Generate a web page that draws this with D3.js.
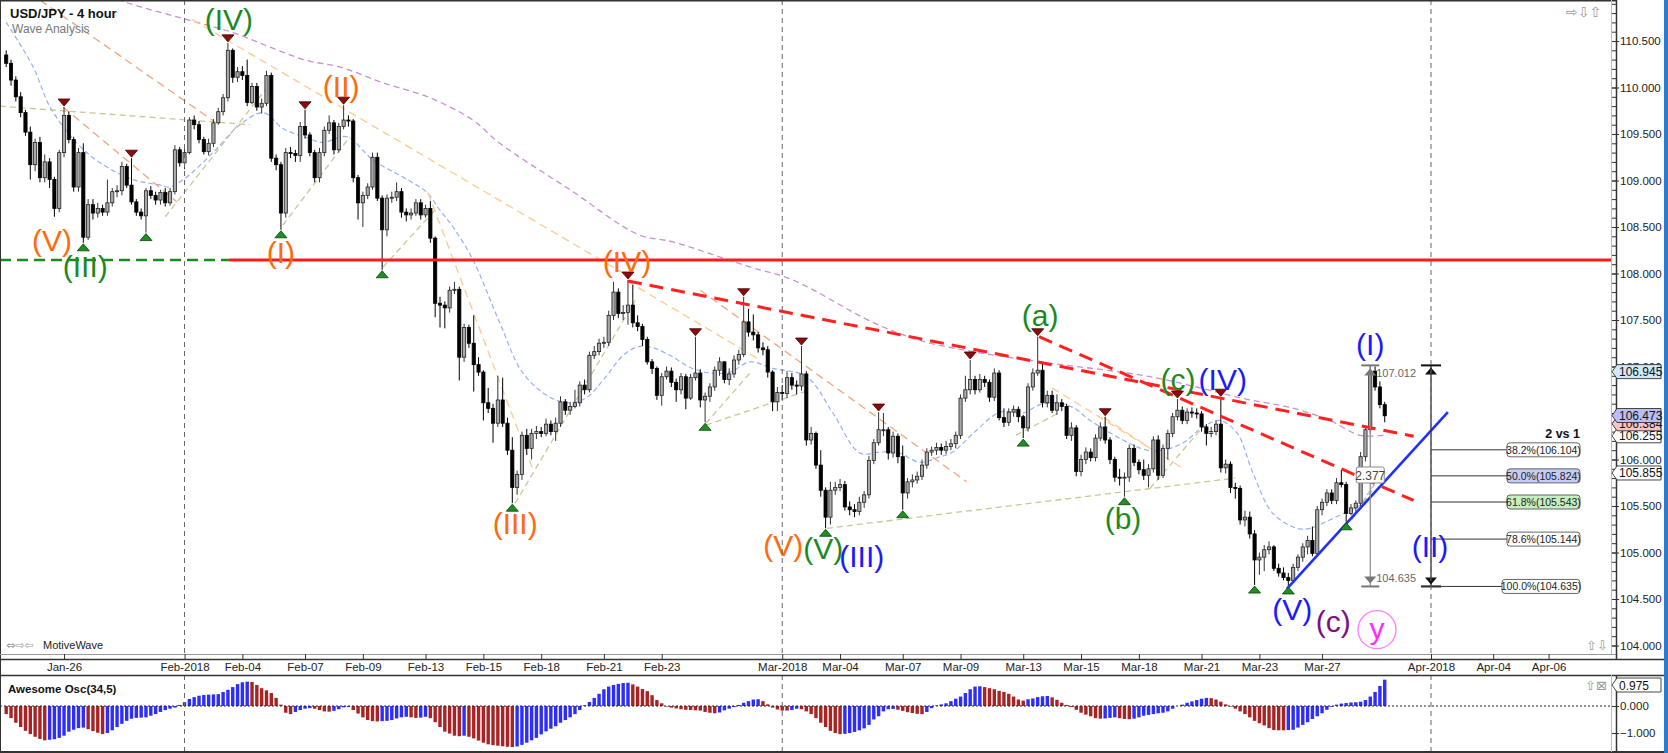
<!DOCTYPE html>
<html>
<head>
<meta charset="UTF-8">
<title>USD/JPY - 4 hour</title>
<style>
    body { margin: 0; padding: 0; background: #fff; }
    svg { display: block; font-family: 'Liberation Sans', Arial, sans-serif; }
    .wave { font-size: 30px; text-anchor: middle; }
    .axis text { font-size: 11.5px; fill: #222; }
    .axis line { stroke: #333; }
</style>
</head>
<body>

<svg></svg>

<script src="https://d3js.org/d3.v7.min.js"></script>
<script>

// ---------- data (4 hour candles, [open, high, low, close]) ----------
const candlesJan = [
[110.35,110.40,110.22,110.26],[110.26,110.30,110.02,110.08],[110.08,110.12,109.85,109.90],[109.90,109.95,109.68,109.73],
[109.73,109.76,109.48,109.52],[109.52,109.58,109.01,109.17],[109.17,109.45,109.10,109.41],[109.41,109.47,108.98,109.03],
[109.03,109.28,108.98,109.20],[109.20,109.24,108.92,109.01],[109.01,109.04,108.61,108.70],[108.70,109.33,108.66,109.30],
[109.30,109.79,109.25,109.70],[109.70,109.74,109.40,109.44],[109.44,109.47,108.88,108.93],[108.93,109.35,108.88,109.30],
[109.30,109.40,108.33,108.39],[108.39,108.80,108.36,108.74],[108.74,108.80,108.58,108.65],[108.65,108.76,108.60,108.70],
[108.70,108.74,108.62,108.66],[108.66,109.01,108.62,108.76],[108.76,108.92,108.72,108.88],[108.88,108.95,108.82,108.89],
[108.89,109.20,108.84,109.15],[109.15,109.18,108.92,108.95],[108.95,109.24,108.74,108.77],[108.77,108.80,108.62,108.66],
[108.66,108.70,108.58,108.62],[108.62,108.92,108.44,108.89],[108.89,108.94,108.80,108.84],[108.84,108.88,108.74,108.79],
[108.79,108.90,108.74,108.87],[108.87,108.92,108.72,108.76],[108.76,108.92,108.73,108.88],[108.88,109.38,108.85,109.33],
[109.33,109.36,109.15,109.19]
];
const candlesFeb = [
[109.19,109.34,109.12,109.30],[109.30,109.68,109.28,109.65],[109.65,109.70,109.55,109.60],[109.60,109.64,109.40,109.44],
[109.44,109.47,109.28,109.31],[109.31,109.45,109.27,109.40],[109.40,109.66,109.36,109.62],[109.62,109.78,109.60,109.74],
[109.74,109.93,109.70,109.89],[109.89,110.48,109.85,110.40],[110.40,110.42,110.05,110.11],[110.11,110.22,110.06,110.17],
[110.17,110.23,110.08,110.13],[110.13,110.30,109.80,109.84],[109.84,110.05,109.82,110.01],[110.01,110.05,109.75,109.79],
[109.79,109.88,109.72,109.83],[109.83,110.18,109.80,110.13],[110.13,110.16,109.20,109.24],[109.24,109.28,109.11,109.17],
[109.17,109.20,108.47,108.65],[108.65,109.35,108.60,109.30],[109.30,109.36,109.24,109.29],[109.29,109.33,109.20,109.27],
[109.27,109.63,109.20,109.58],[109.58,109.76,109.45,109.49],[109.49,109.52,109.26,109.30],[109.30,109.33,108.98,109.03],
[109.03,109.35,108.98,109.30],[109.30,109.58,109.26,109.54],[109.54,109.70,109.50,109.62],[109.62,109.65,109.28,109.33],
[109.33,109.62,109.30,109.58],[109.58,109.81,109.55,109.65],[109.65,109.70,109.58,109.64],[109.64,109.66,108.98,109.03],
[109.03,109.06,108.58,108.76],[108.76,108.88,108.50,108.84],[108.84,108.97,108.80,108.93],[108.93,109.30,108.90,109.25],
[109.25,109.30,108.78,108.81],[108.81,108.84,108.04,108.47],[108.47,108.85,108.40,108.81],[108.81,108.88,108.76,108.82],
[108.82,108.98,108.78,108.88],[108.88,108.92,108.60,108.66],[108.66,108.70,108.56,108.63],[108.63,108.70,108.58,108.65],
[108.65,108.80,108.62,108.76],[108.76,108.80,108.58,108.63],[108.63,108.74,108.60,108.70],[108.70,108.78,108.33,108.38],
[108.38,108.40,107.53,107.68],[107.68,107.75,107.42,107.66],[107.66,107.70,107.41,107.63],[107.63,107.86,107.58,107.82],
[107.82,107.91,107.78,107.83],[107.83,107.86,106.85,107.10],[107.10,107.46,107.05,107.42],[107.42,107.45,107.20,107.25],
[107.25,107.55,106.73,107.02],[107.02,107.10,106.90,106.94],[106.94,106.96,106.42,106.61],[106.61,106.77,106.50,106.55],
[106.55,106.60,106.18,106.39],[106.39,106.90,106.35,106.64],[106.64,106.88,106.35,106.39],[106.39,106.45,106.05,106.10],
[106.10,106.24,105.53,105.70],[105.70,105.88,105.62,105.84],[105.84,106.30,105.78,106.26],[106.26,106.33,106.05,106.12],
[106.12,106.33,106.00,106.28],[106.28,106.36,106.22,106.30],[106.30,106.35,106.24,106.28],[106.28,106.44,106.25,106.38],
[106.38,106.42,106.26,106.30],[106.30,106.45,106.20,106.39],[106.39,106.68,106.35,106.62],[106.62,106.65,106.48,106.53],
[106.53,106.62,106.48,106.57],[106.57,106.75,106.55,106.61],[106.61,106.84,106.57,106.80],[106.80,106.86,106.70,106.75],
[106.75,107.16,106.72,107.12],[107.12,107.22,107.08,107.16],[107.16,107.30,107.12,107.25],[107.25,107.32,107.20,107.26],
[107.26,107.60,107.22,107.55],[107.55,107.91,107.50,107.80],[107.80,107.84,107.52,107.57],[107.57,107.66,107.50,107.58],
[107.58,107.93,107.45,107.66],[107.66,107.88,107.42,107.47],[107.47,107.55,107.38,107.43],[107.43,107.46,107.22,107.29],
[107.29,107.32,107.02,107.05],[107.05,107.08,106.92,106.98],[106.98,107.00,106.64,106.69],[106.69,106.93,106.58,106.89],
[106.89,107.00,106.86,106.95],[106.95,106.99,106.78,106.83],[106.83,106.87,106.62,106.75],[106.75,106.93,106.70,106.89],
[106.89,106.92,106.54,106.66],[106.66,106.92,106.64,106.88],[106.88,107.32,106.85,106.93],[106.93,106.97,106.56,106.64],
[106.64,106.72,106.40,106.68],[106.68,106.82,106.62,106.78],[106.78,107.00,106.74,106.96],[106.96,107.10,106.90,107.05],
[107.05,107.06,106.82,106.86],[106.86,106.98,106.80,106.92],[106.92,107.12,106.88,107.07],[107.07,107.18,107.02,107.13],
[107.13,107.75,107.10,107.48],[107.48,107.62,107.32,107.37],[107.37,107.56,107.28,107.34],[107.34,107.37,107.15,107.20],
[107.20,107.26,107.12,107.18],[107.18,107.22,106.88,106.94],[106.94,106.96,106.52,106.62],[106.62,106.78,106.52,106.72]
];
const candlesMar = [
[106.72,106.80,106.64,106.71],[106.71,106.95,106.66,106.88],[106.88,106.93,106.75,106.80],[106.80,106.85,106.70,106.79],
[106.79,107.22,106.74,106.92],[106.92,106.95,106.15,106.21],[106.21,106.35,106.16,106.28],[106.28,106.30,105.90,105.94],
[105.94,106.10,105.60,105.67],[105.67,105.70,105.26,105.38],[105.38,105.76,105.30,105.67],[105.67,105.76,105.62,105.70],
[105.70,105.79,105.66,105.73],[105.73,105.77,105.45,105.49],[105.49,105.55,105.40,105.46],[105.46,105.52,105.38,105.44],
[105.44,105.60,105.40,105.54],[105.54,105.66,105.48,105.62],[105.62,106.04,105.58,105.99],[105.99,106.22,105.95,106.18],
[106.18,106.51,106.15,106.32],[106.32,106.50,106.25,106.32],[106.32,106.35,106.00,106.07],[106.07,106.30,106.02,106.25],
[106.25,106.28,105.96,106.03],[106.03,106.15,105.46,105.64],[105.64,105.80,105.58,105.76],[105.76,105.84,105.70,105.78],
[105.78,105.87,105.74,105.82],[105.82,106.00,105.78,105.94],[105.94,106.12,105.90,106.08],[106.08,106.14,106.04,106.10],
[106.10,106.18,106.05,106.13],[106.13,106.17,106.05,106.10],[106.10,106.20,106.06,106.14],[106.14,106.22,106.10,106.17],
[106.17,106.30,106.12,106.26],[106.26,106.70,106.22,106.66],[106.66,106.90,106.62,106.75],[106.75,107.07,106.70,106.86],
[106.86,106.90,106.70,106.75],[106.75,106.92,106.72,106.86],[106.86,106.90,106.78,106.83],[106.83,106.86,106.62,106.67],
[106.67,106.98,106.63,106.93],[106.93,106.96,106.42,106.45],[106.45,106.55,106.35,106.40],[106.40,106.55,106.36,106.51],
[106.51,106.58,106.46,106.54],[106.54,106.57,106.40,106.46],[106.46,106.48,106.23,106.34],[106.34,106.82,106.30,106.78],
[106.78,106.98,106.74,106.93],[106.93,107.32,106.90,106.96],[106.96,107.05,106.56,106.61],[106.61,106.74,106.56,106.69],
[106.69,106.74,106.50,106.53],[106.53,106.70,106.48,106.61],[106.61,106.65,106.52,106.57],[106.57,106.60,106.22,106.26],
[106.26,106.40,106.20,106.34],[106.34,106.37,105.82,105.87],[105.87,106.05,105.82,106.00],[106.00,106.13,105.95,106.08],
[106.08,106.12,105.98,106.02],[106.02,106.27,105.98,106.23],[106.23,106.40,106.20,106.35],[106.35,106.46,106.17,106.21],
[106.21,106.24,105.95,106.00],[106.00,106.03,105.76,105.81],[105.81,105.90,105.72,105.80],[105.80,105.86,105.60,105.81],
[105.81,106.16,105.76,106.12],[106.12,106.16,105.93,105.97],[105.97,106.00,105.84,105.89],[105.89,106.00,105.78,105.83],
[105.83,105.95,105.70,105.90],[105.90,106.25,105.86,106.21],[106.21,106.26,105.78,105.83],[105.83,106.16,105.80,106.12],
[106.12,106.32,106.00,106.28],[106.28,106.50,106.24,106.46],[106.46,106.65,106.42,106.53],[106.53,106.57,106.38,106.42],
[106.42,106.55,106.38,106.51],[106.51,106.56,106.45,106.50],[106.50,106.55,106.44,106.49],[106.49,106.52,106.30,106.35],
[106.35,106.38,106.15,106.28],[106.28,106.35,106.24,106.30],[106.30,106.42,106.26,106.38],[106.38,106.67,105.86,105.91],
[105.91,106.00,105.85,105.95],[105.95,105.98,105.64,105.70],[105.70,105.75,105.58,105.69],[105.69,105.72,105.30,105.35],
[105.35,105.45,105.28,105.38],[105.38,105.44,105.15,105.20],[105.20,105.24,104.65,104.92],[104.92,105.00,104.76,104.95],
[104.95,105.08,104.80,105.03],[105.03,105.12,104.98,105.06],[105.06,105.08,104.80,104.83],[104.83,104.88,104.74,104.78],
[104.78,104.84,104.70,104.73],[104.73,104.78,104.64,104.70],[104.70,104.88,104.68,104.84],[104.84,104.98,104.80,104.95],
[104.95,105.10,104.90,105.06],[105.06,105.18,104.98,105.13],[105.13,105.28,104.96,104.99],[104.99,105.50,104.96,105.46],
[105.46,105.58,105.40,105.54],[105.54,105.68,105.50,105.64],[105.64,105.68,105.52,105.56],[105.56,105.80,105.52,105.75],
[105.75,105.89,105.70,105.73],[105.73,105.76,105.33,105.42],[105.42,105.52,105.40,105.48],[105.48,105.56,105.44,105.53],
[105.53,106.08,105.50,106.03],[106.03,106.36,105.98,106.32],[106.32,107.01,106.28,106.95],[106.95,107.00,106.74,106.78],
[106.78,106.84,106.55,106.59],[106.59,106.62,106.40,106.47]
];

// Awesome Oscillator (34,5), one value per candle
const aoValues = [
-0.30,-0.45,-0.62,-0.78,-0.92,-1.04,-1.14,-1.22,-1.27,-1.25,
-1.23,-1.18,-1.10,-0.95,-0.88,-0.82,-0.80,-0.86,-0.93,-0.99,
-1.04,-1.00,-0.90,-0.78,-0.66,-0.55,-0.47,-0.44,-0.43,-0.42,
-0.36,-0.30,-0.22,-0.15,-0.10,-0.06,0.04,0.14,0.26,0.33,
0.38,0.41,0.42,0.43,0.44,0.52,0.60,0.70,0.81,0.88,
0.90,0.89,0.78,0.66,0.58,0.48,0.30,0.05,-0.25,-0.30,
-0.22,-0.15,-0.10,-0.08,-0.10,-0.15,-0.20,-0.21,-0.18,-0.12,
-0.05,-0.04,-0.15,-0.28,-0.42,-0.52,-0.56,-0.57,-0.56,-0.55,
-0.52,-0.46,-0.42,-0.40,-0.42,-0.44,-0.43,-0.40,-0.45,-0.60,
-0.78,-0.95,-1.02,-1.10,-1.12,-1.10,-1.14,-1.20,-1.28,-1.36,
-1.42,-1.45,-1.47,-1.49,-1.51,-1.52,-1.50,-1.44,-1.36,-1.27,
-1.18,-1.05,-0.94,-0.84,-0.75,-0.62,-0.52,-0.42,-0.30,-0.15,
0.03,0.15,0.30,0.45,0.62,0.72,0.78,0.82,0.85,0.86,
0.80,0.72,0.63,0.55,0.40,0.22,0.10,-0.02,-0.06,-0.09,
-0.12,-0.14,-0.15,-0.16,-0.17,-0.22,-0.25,-0.27,-0.24,-0.16,
-0.10,-0.04,0.04,0.12,0.18,0.24,0.25,0.18,0.06,-0.06,
-0.13,-0.17,-0.17,-0.15,-0.10,-0.12,-0.20,-0.30,-0.45,-0.62,
-0.78,-0.92,-1.00,-1.04,-1.03,-1.00,-0.96,-0.90,-0.83,-0.70,
-0.50,-0.38,-0.20,-0.12,-0.11,-0.14,-0.18,-0.23,-0.26,-0.29,
-0.30,-0.22,-0.08,0.02,0.06,0.10,0.18,0.27,0.35,0.48,
0.62,0.72,0.73,0.70,0.66,0.62,0.56,0.52,0.45,0.35,
0.24,0.20,0.25,0.28,0.33,0.36,0.37,0.32,0.23,0.12,
0.04,-0.04,-0.14,-0.25,-0.32,-0.38,-0.45,-0.47,-0.46,-0.44,
-0.42,-0.45,-0.48,-0.49,-0.47,-0.42,-0.36,-0.33,-0.30,-0.27,
-0.25,-0.20,-0.10,0.00,0.05,0.12,0.17,0.22,0.27,0.30,
0.29,0.24,0.16,0.06,-0.02,-0.10,-0.20,-0.30,-0.42,-0.55,
-0.64,-0.72,-0.82,-0.89,-0.90,-0.90,-0.89,-0.88,-0.80,-0.70,
-0.60,-0.48,-0.38,-0.27,-0.14,-0.03,0.05,0.09,0.11,0.13,
0.14,0.16,0.22,0.35,0.52,0.74,0.975
];

// time axis (label, candle index)
const tickLabels = ["Jan-26","Feb-2018","Feb-04","Feb-07","Feb-09","Feb-13","Feb-15","Feb-18","Feb-21","Feb-23",
    "Mar-2018","Mar-04","Mar-07","Mar-09","Mar-13","Mar-15","Mar-18","Mar-21","Mar-23","Mar-27","Apr-2018","Apr-04","Apr-06"];
const tickIndex = [12,37,49,62,74,87,99,111,124,136,161,173,186,198,211,223,235,248,260,273,295.6,308.5,320];
const monthLabels = ["Feb-2018","Mar-2018","Apr-2018"];
const priceTicks = [104.0,104.5,105.0,105.5,106.0,106.5,107.0,107.5,108.0,108.5,109.0,109.5,110.0,110.5];

// moving averages, [candle index, price]
const slowMA = [[17.4,111.08],[24.7,110.92],[37.5,110.73],[47.1,110.59],[55.4,110.42],[62.4,110.29],[69.3,110.22],
    [78.2,110.05],[87.9,109.89],[96.8,109.65],[102.4,109.40],[117,108.90],[131.1,108.42],[138.3,108.34],[154.3,108.07],
    [163.2,107.93],[180,107.47],[189.6,107.28],[200.6,107.16],[214.5,107.05],[237.3,106.89],[258.1,106.64],[266.4,106.56],
    [274.6,106.42],[280.9,106.26],[286,106.26]];
const fastMA = [[0,110.70],[5.6,110.22],[9.1,109.79],[14.7,109.40],[19.5,109.19],[26.3,109.01],[32,108.95],[34,108.93],
    [37.5,109.04],[42.9,109.30],[48.5,109.60],[53.3,109.73],[57.4,109.56],[62.4,109.46],[65.7,109.41],[70.7,109.47],
    [76.1,109.22],[83.2,109.01],[87.3,108.87],[90,108.68],[92.7,108.50],[96.8,108.15],[102.4,107.47],[107.2,106.93],
    [112.8,106.67],[117,106.61],[120.5,106.67],[123.8,106.85],[128,107.12],[130.9,107.21],[133.6,107.21],[137.7,107.12],
    [141.9,106.99],[146,106.93],[150.2,106.94],[154.3,107.05],[159.1,106.98],[166.1,106.89],[171.5,106.50],[177.1,106.07],
    [181.3,106.08],[184.8,106.08],[189.6,105.97],[193.7,106.03],[196.4,106.08],[200.6,106.28],[206.2,106.51],[211,106.50],
    [214.5,106.59],[218,106.61],[221.3,106.56],[224.9,106.42],[231.7,106.21],[236.7,106.10],[240,106.10],[244.2,106.18],
    [248.3,106.35],[251.8,106.42],[255.4,106.28],[258.7,105.85],[262.8,105.42],[267.8,105.26],[270.5,105.26],
    [274.6,105.35],[278.2,105.44],[280.9,105.51],[283,105.67],[286,105.86]];

// drawn trend lines, [index1, price1, index2, price2]
const salmonLines = [[7,110.94,43.3,109.63],[11.8,109.79,35.4,108.77],[144,107.82,199.3,105.76]];
const paleOrangeLines = [[38.6,110.73,128.8,107.98],[87.5,108.87,109.3,105.89],[128.8,107.92,156.4,107.07],
    [217,106.77,244.6,105.89],[227.8,106.45,239.4,106.05]];
const khakiLines = [[-1.3,109.80,50.6,109.60],[33,108.61,54.3,110.01],[57.4,108.52,71.3,109.47],[78.2,108.07,88.9,108.68],
    [105.6,105.53,130.5,107.71],[145.2,106.39,154.3,106.93],[145.2,106.37,166.8,106.75],[170.3,105.26,255,105.80],
    [209.5,106.26,218.7,106.51],[237.3,105.69,248.3,106.35],[279.2,105.35,283.4,105.67]];
const redDashLines = [[129,107.92,292,106.25],[214.3,107.32,292,105.56]];
const blueTrendLines = [[265.7,104.61,299.1,106.51]];
const keyLevel = 108.145, keyLevelFrom = 46.2;

// swing markers (candle index)
const swingHighs = [12,26,46,62,70,129,143,153,165,181,200,214,228,243,252];
const swingLows = [16,29,57,78,105,145,170,186,211,232,259,266,278];

// wave labels [text, index, price]
const wavesOrange = [["(V)",9.5,108.34],["(I)",57,108.21],["(II)",69.5,109.99],["(III)",105.6,105.30],["(IV)",128.8,108.11],["(V)",161.2,105.06]];
const wavesGreen = [["(III)",16.4,108.06],["(IV)",46.2,110.72],["(V)",169.5,105.03],["(a)",214.5,107.53],["(b)",231.7,105.35],["(c)",243.1,106.84]];
const wavesBlue = [["(III)",177.5,104.94],["(IV)",252.4,106.84],["(V)",266.8,104.37],["(I)",283,107.22],["(II)",295.4,105.05]];
const wavesPurple = [["(c)",275.3,104.24]];
const wavesMagenta = [["y",284.4,104.17]];

// fibonacci retracement and measure
const fibIndex = 295.6, measureIndex = 283;
const swingTop = 107.012, swingBottom = 104.635;
const fibNames = ["38.2%","50.0%","61.8%","78.6%","100.0%"];
const fibPrices = [106.104,105.824,105.543,105.144,104.635];
const measureText = "2.377";

// right axis value tags
const tagValues = [105.855,106.255,106.384,106.473,106.945];
const aoLast = 0.975;

// ---------- layout ----------
let W = 1668, H = 753;
let plotR = 1612, mainB = 654, oscT = 675, oscB = 752;
let x0 = 6.2, step = 4.82;

let svg = d3.select("svg").attr("width", W).attr("height", H).attr("viewBox", `0 0 ${W} ${H}`);
svg.append("rect").attr("width", W).attr("height", H).attr("fill", "#fff");

let x = d3.scaleLinear().domain([0, 1]).range([x0, x0 + step]);
let y = d3.scaleLinear().domain([104, 110.5]).range([645.5, 41]);
let yAO = d3.scaleLinear().domain([-1, 0]).range([733, 706]);

let candles = candlesJan.concat(candlesFeb, candlesMar)
    .map((d, i) => ({i: i, o: d[0], h: d[1], l: d[2], c: d[3]}));

let defs = svg.append("defs");
defs.append("clipPath").attr("id", "clipMain").append("rect")
    .attr("x", 1).attr("y", 1).attr("width", plotR - 1).attr("height", mainB - 1);
defs.append("clipPath").attr("id", "clipOsc").append("rect")
    .attr("x", 1).attr("y", oscT + 1).attr("width", plotR - 1).attr("height", oscB - oscT - 1);

let main = svg.append("g").attr("clip-path", "url(#clipMain)");
let osc = svg.append("g").attr("clip-path", "url(#clipOsc)");

// month separators
monthLabels.forEach(m => {
    let xm = x(tickIndex[tickLabels.indexOf(m)]);
    [[0, mainB], [oscT, oscB]].forEach(r => {
        svg.append("line").attr("x1", xm).attr("x2", xm).attr("y1", r[0]).attr("y2", r[1])
            .attr("stroke", "#666").attr("stroke-width", 1).attr("stroke-dasharray", "5,4");
    });
});

// moving averages
let maLine = d3.line().x(d => x(d[0])).y(d => y(d[1])).curve(d3.curveCatmullRom);
main.append("path").attr("d", maLine(slowMA)).attr("fill", "none")
    .attr("stroke", "#c890d2").attr("stroke-width", 1.3).attr("stroke-dasharray", "6,4");
main.append("path").attr("d", maLine(fastMA)).attr("fill", "none")
    .attr("stroke", "#93b2f2").attr("stroke-width", 1.2).attr("stroke-dasharray", "5,3");

// thin wave channel lines
function drawSegments(g, data, color, width, dash) {
    g.append("g").selectAll("line").data(data).enter().append("line")
        .attr("x1", d => x(d[0])).attr("y1", d => y(d[1]))
        .attr("x2", d => x(d[2])).attr("y2", d => y(d[3]))
        .attr("stroke", color).attr("stroke-width", width).attr("stroke-dasharray", dash);
}
drawSegments(main, salmonLines, "#f3a578", 1.3, "8,5");
drawSegments(main, paleOrangeLines, "#ffc98e", 1.3, "8,5");
drawSegments(main, khakiLines, "#c9c893", 1.3, "6,4");

// candles
let gC = main.append("g");
gC.selectAll("line").data(candles).enter().append("line")
    .attr("x1", d => x(d.i)).attr("x2", d => x(d.i))
    .attr("y1", d => y(d.h)).attr("y2", d => y(d.l))
    .attr("stroke", d => d.c >= d.o ? "#333" : "#000").attr("stroke-width", 1);
gC.selectAll("rect").data(candles).enter().append("rect")
    .attr("x", d => x(d.i) - 1.6).attr("width", 3.2)
    .attr("y", d => y(Math.max(d.o, d.c)))
    .attr("height", d => Math.max(1, Math.abs(y(d.o) - y(d.c))))
    .attr("fill", d => d.c >= d.o ? "#a8a8a8" : "#000")
    .attr("stroke", d => d.c >= d.o ? "#222" : "#000").attr("stroke-width", 0.8);

// key horizontal level
main.append("line").attr("x1", 0).attr("x2", x(keyLevelFrom)).attr("y1", y(keyLevel)).attr("y2", y(keyLevel))
    .attr("stroke", "#1a8c1a").attr("stroke-width", 2.6).attr("stroke-dasharray", "11,6");
main.append("line").attr("x1", x(keyLevelFrom)).attr("x2", plotR).attr("y1", y(keyLevel)).attr("y2", y(keyLevel))
    .attr("stroke", "#ff1a1a").attr("stroke-width", 3);

// trend lines
drawSegments(main, redDashLines, "#ff2020", 3, "14,8");
drawSegments(main, blueTrendLines, "#1f2fff", 2.6, null);

// swing markers
function tri(cx, tip, dir) {
    let h = 7, w = 6;
    return `M${cx - w},${tip - dir * h}L${cx + w},${tip - dir * h}L${cx},${tip}Z`;
}
main.append("g").selectAll("path").data(swingHighs).enter().append("path")
    .attr("d", i => tri(x(i), y(candles[i].h) - 1, 1))
    .attr("fill", "#8e0b0b").attr("stroke", "#3a0000").attr("stroke-width", 0.8);
main.append("g").selectAll("path").data(swingLows).enter().append("path")
    .attr("d", i => tri(x(i), y(candles[i].l) + 1, -1))
    .attr("fill", "#1f8f1f").attr("stroke", "#0a3f0a").attr("stroke-width", 0.8);

// measure tool on the last swing
let mx = x(measureIndex), mTop = y(swingTop), mBot = y(swingBottom);
main.append("line").attr("x1", mx).attr("x2", mx).attr("y1", mTop).attr("y2", mBot)
    .attr("stroke", "#8a8a8a").attr("stroke-width", 1.2);
[mTop, mBot].forEach(v => main.append("line").attr("x1", mx - 9).attr("x2", mx + 9).attr("y1", v).attr("y2", v)
    .attr("stroke", "#777").attr("stroke-width", 2));
main.append("path").attr("d", tri(mx, mTop + 3, -1)).attr("fill", "#777");
main.append("path").attr("d", tri(mx, mBot - 3, 1)).attr("fill", "#777");
main.append("text").attr("x", mx + 6).attr("y", mTop + 12).attr("font-size", "11px").attr("fill", "#666").text(swingTop.toFixed(3));
main.append("text").attr("x", mx + 6).attr("y", mBot - 4).attr("font-size", "11px").attr("fill", "#666").text(swingBottom.toFixed(3));
main.append("rect").attr("x", mx - 14).attr("y", 467).attr("width", 28).attr("height", 16).attr("rx", 2)
    .attr("fill", "#fff").attr("stroke", "#888");
main.append("text").attr("x", mx).attr("y", 479.5).attr("text-anchor", "middle").attr("font-size", "12px")
    .attr("fill", "#444").text(measureText);

// fibonacci retracement
let fx = x(fibIndex), fTop = y(swingTop), fBot = y(swingBottom);
let fibFill = ["#ffffff", "#c3cbf6", "#c6efc1", "#ffffff", "#ffffff"];
main.append("line").attr("x1", fx).attr("x2", fx).attr("y1", fTop).attr("y2", fBot)
    .attr("stroke", "#333").attr("stroke-width", 1.3);
[fTop, fBot].forEach(v => main.append("line").attr("x1", fx - 10).attr("x2", fx + 10).attr("y1", v).attr("y2", v)
    .attr("stroke", "#111").attr("stroke-width", 2));
main.append("path").attr("d", tri(fx, fTop + 2, -1)).attr("fill", "#111");
main.append("path").attr("d", tri(fx, fBot - 2, 1)).attr("fill", "#111");
fibPrices.forEach((p, k) => {
    let last = k === fibPrices.length - 1;
    let bx = last ? fx + 71 : fx + 76;
    let yy = y(p);
    main.append("line").attr("x1", last ? fx - 10 : fx).attr("x2", bx).attr("y1", yy).attr("y2", yy)
        .attr("stroke", "#333").attr("stroke-width", 1);
    main.append("rect").attr("x", bx).attr("y", yy - 7).attr("width", fx + 149 - bx).attr("height", 14).attr("rx", 3)
        .attr("fill", fibFill[k]).attr("stroke", "#555").attr("stroke-width", 0.9);
    main.append("text").attr("x", (bx + fx + 149) / 2).attr("y", yy + 4).attr("text-anchor", "middle")
        .attr("font-size", "10.5px").attr("fill", "#222").text(`${fibNames[k]}(${p.toFixed(3)})`);
});
main.append("text").attr("x", fx + 149).attr("y", y(fibPrices[0]) - 12).attr("text-anchor", "end")
    .attr("font-size", "12.5px").attr("font-weight", "bold").attr("fill", "#111").text("2 vs 1");

// wave labels
function drawWaves(data, color) {
    main.append("g").selectAll("text").data(data).enter().append("text")
        .attr("class", "wave").attr("x", d => x(d[1])).attr("y", d => y(d[2])).attr("dy", "0.3em")
        .attr("fill", color).text(d => d[0]);
}
drawWaves(wavesOrange, "#ff6a0a");
drawWaves(wavesGreen, "#1d8a1d");
drawWaves(wavesBlue, "#1a1aff");
drawWaves(wavesPurple, "#7d0f82");
drawWaves(wavesMagenta, "#ff2bff");
wavesMagenta.forEach(d => main.append("circle").attr("cx", x(d[1])).attr("cy", y(d[2])).attr("r", 19)
    .attr("fill", "none").attr("stroke", "#ff7cff").attr("stroke-width", 1.3));

// awesome oscillator
osc.append("g").selectAll("rect").data(aoValues).enter().append("rect")
    .attr("x", (d, i) => x(i) - 1.7).attr("width", 3.4)
    .attr("y", d => Math.min(yAO(d), yAO(0)))
    .attr("height", d => Math.abs(yAO(d) - yAO(0)))
    .attr("fill", (d, i) => i > 0 && d > aoValues[i - 1] ? "#2d2dff" : "#a82424");
osc.append("line").attr("x1", 0).attr("x2", plotR).attr("y1", yAO(0)).attr("y2", yAO(0))
    .attr("stroke", "#222").attr("stroke-width", 1).attr("stroke-dasharray", "2,2");

// ---------- frame and axes ----------
let frame = svg.append("g").attr("stroke", "#333");
frame.append("line").attr("x1", 0.5).attr("x2", 0.5).attr("y1", 0).attr("y2", H);
frame.append("line").attr("x1", 0).attr("x2", 1617).attr("y1", 0.75).attr("y2", 0.75).attr("stroke-width", 1.5);
frame.append("line").attr("x1", 0).attr("x2", 1617).attr("y1", mainB + 0.5).attr("y2", mainB + 0.5).attr("stroke", "#9a9a9a");
frame.append("line").attr("x1", 0).attr("x2", 1664).attr("y1", 659.5).attr("y2", 659.5).attr("stroke-width", 1.5);
frame.append("line").attr("x1", 0).attr("x2", 1664).attr("y1", oscT + 0.5).attr("y2", oscT + 0.5).attr("stroke-width", 1.5);
frame.append("line").attr("x1", 0).attr("x2", W).attr("y1", oscB).attr("y2", oscB).attr("stroke-width", 2);
[[0, mainB], [oscT, oscB]].forEach(r => {
    frame.append("line").attr("x1", plotR - 0.5).attr("x2", plotR - 0.5).attr("y1", r[0]).attr("y2", r[1]).attr("stroke", "#bbb");
    frame.append("line").attr("x1", 1616.5).attr("x2", 1616.5).attr("y1", r[0]).attr("y2", r[1] + (r[0] === 0 ? 5 : 0)).attr("stroke-width", 1.5);
});
svg.append("rect").attr("x", 1664).attr("y", 0).attr("width", 4).attr("height", H).attr("fill", "#2a7bd1");

// price axis
let minorTicks = d3.range(104.0, 110.95, 0.1);
svg.append("g").attr("class", "axis").attr("transform", `translate(${plotR},0)`)
    .call(d3.axisRight(y).tickValues(minorTicks).tickSize(4).tickFormat(""))
    .call(g => g.select(".domain").remove());
svg.append("g").attr("class", "axis").attr("transform", `translate(${plotR},0)`)
    .call(d3.axisRight(y).tickValues(priceTicks).tickSize(7).tickPadding(1).tickFormat(d3.format(".3f")))
    .call(g => g.select(".domain").remove())
    .call(g => g.selectAll("text").attr("font-size", "12px"));

// value tags on the price axis
let tagFill = {105.855: "#ffffff", 106.255: "#ffffff", 106.384: "#f6c3c3", 106.473: "#babef4", 106.945: "#d0e8f8"};
function tag(g, yy, fill, label) {
    g.append("path").attr("d", `M${plotR},${yy}L${plotR + 5},${yy - 7}L1661,${yy - 7}L1661,${yy + 7}L${plotR + 5},${yy + 7}Z`)
        .attr("fill", fill).attr("stroke", "#333").attr("stroke-width", 0.9);
    g.append("text").attr("x", 1619).attr("y", yy + 4.5).attr("font-size", "12px").attr("fill", "#111").text(label);
}
tagValues.forEach(v => tag(svg, y(v), tagFill[v], v.toFixed(3)));

// time axis
svg.append("g").attr("class", "axis").attr("transform", `translate(0,${mainB})`)
    .call(d3.axisBottom(x).tickValues(tickIndex).tickSize(5).tickPadding(4)
        .tickFormat((d, i) => tickLabels[i]))
    .call(g => g.select(".domain").remove());

// oscillator axis
svg.append("g").attr("class", "axis").attr("transform", `translate(${plotR},0)`)
    .call(d3.axisRight(yAO).tickValues([0, -1]).tickSize(7).tickPadding(1).tickFormat(d3.format(".3f")))
    .call(g => g.select(".domain").remove())
    .call(g => g.selectAll("text").attr("font-size", "12px"));
tag(svg, Math.max(yAO(aoLast), oscT + 10), "#ffffff", aoLast.toFixed(3));

// titles and small texts
svg.append("text").attr("x", 10).attr("y", 18).attr("font-size", "13px").attr("font-weight", "bold")
    .attr("fill", "#111").text("USD/JPY - 4 hour");
svg.append("text").attr("x", 12).attr("y", 33).attr("font-size", "12px").attr("fill", "#777").text("Wave Analysis");
svg.append("text").attr("x", 8).attr("y", 693).attr("font-size", "11.5px").attr("font-weight", "bold")
    .attr("fill", "#111").text("Awesome Osc(34,5)");
svg.append("text").attr("x", 6).attr("y", 649).attr("font-size", "11px").attr("fill", "#999")
    .attr("font-family", "'DejaVu Sans'").text("⇔⇨⇦");
svg.append("text").attr("x", 43).attr("y", 649).attr("font-size", "11px").attr("fill", "#222").text("MotiveWave");
svg.append("text").attr("x", 1566).attr("y", 17).attr("font-size", "14px").attr("fill", "#999")
    .attr("font-family", "'DejaVu Sans'").text("⇨⇩⇧");
svg.append("text").attr("x", 1586).attr("y", 650).attr("font-size", "13px").attr("fill", "#999")
    .attr("font-family", "'DejaVu Sans'").text("⇧⇩");
svg.append("text").attr("x", 1585).attr("y", 690).attr("font-size", "13px").attr("fill", "#999")
    .attr("font-family", "'DejaVu Sans'").text("⇧⊠");

</script>

</body>
</html>
